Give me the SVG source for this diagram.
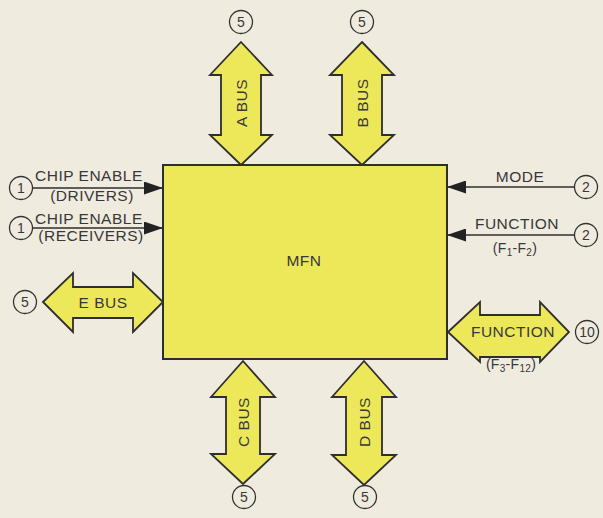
<svg xmlns="http://www.w3.org/2000/svg" width="603" height="518" viewBox="0 0 603 518">
<style>
  .bg { fill: #efebdf; }
  .blk { fill: #ece85a; stroke: #2e2e2e; stroke-width: 2; }
  .bus { fill: #ece85a; stroke: #2e2e2e; stroke-width: 1.8; stroke-linejoin: miter; }
  .pin { fill: none; stroke: #333; stroke-width: 1.3; }
  .wire { fill: none; stroke: #2e2e2e; stroke-width: 1.6; }
  text { font-family: "Liberation Sans", Arial, sans-serif; font-size: 15.5px; fill: #383838; letter-spacing: 0.5px; }
  .num { font-size: 14px; letter-spacing: 0; text-anchor: middle; }
  .c { text-anchor: middle; }
  .sm { font-size: 14px; letter-spacing: 0.3px; }
</style>
<defs>
  <marker id="ah" viewBox="0 0 19 13" refX="19" refY="6.5" markerWidth="19" markerHeight="13" markerUnits="userSpaceOnUse" orient="auto">
    <path d="M0,0 L19,6.5 L0,13 Z" fill="#222"/>
  </marker>
</defs>
<rect class="bg" x="0" y="0" width="603" height="518"/>

<g id="connectors">
  <!-- A BUS -->
  <path class="bus" d="M241,42 L272,75 L261,75 L261,135 L272,135 L241,165 L210,135 L221,135 L221,75 L210,75 Z"/>
  <!-- B BUS -->
  <path class="bus" d="M362,42 L394,75 L382,75 L382,135 L394,135 L362,165 L330,135 L342,135 L342,75 L330,75 Z"/>
  <!-- C BUS -->
  <path class="bus" d="M243,361 L275,397 L260,397 L260,454 L275,454 L243,484 L211,454 L226,454 L226,397 L211,397 Z"/>
  <!-- D BUS -->
  <path class="bus" d="M364,361 L396,397 L382,397 L382,455 L396,455 L364,485 L332,455 L346,455 L346,397 L332,397 Z"/>
  <!-- E BUS -->
  <path class="bus" d="M43,302 L73,273 L73,287 L133,287 L133,273 L163,302 L133,332 L133,318 L73,318 L73,332 Z"/>
  <!-- FUNCTION F3-F12 -->
  <path class="bus" d="M448,332 L480,302 L480,315 L540,315 L540,302 L569,332 L540,362 L540,357 L480,357 L480,362 Z"/>
  <!-- control lines -->
  <line class="wire" x1="33" y1="188" x2="163" y2="188" marker-end="url(#ah)"/>
  <line class="wire" x1="33" y1="228" x2="163" y2="228" marker-end="url(#ah)"/>
  <line class="wire" x1="574" y1="187" x2="447" y2="187" marker-end="url(#ah)"/>
  <line class="wire" x1="574" y1="235" x2="447" y2="235" marker-end="url(#ah)"/>
</g>

<g id="mfn">
  <rect class="blk" x="163" y="165" width="284" height="194"/>
  <text class="c" x="304" y="266">MFN</text>
</g>

<g id="a-bus-label"><text class="c" transform="translate(247,103) rotate(-90)">A BUS</text></g>
<g id="b-bus-label"><text class="c" transform="translate(368,103) rotate(-90)">B BUS</text></g>
<g id="c-bus-label"><text class="c" transform="translate(249,422) rotate(-90)">C BUS</text></g>
<g id="d-bus-label"><text class="c" transform="translate(370,422) rotate(-90)">D BUS</text></g>
<g id="e-bus-label"><text class="c" x="103" y="308">E BUS</text></g>

<g id="func-bus-label">
  <text class="c" x="513" y="337">FUNCTION</text>
  <text class="c sm" x="511" y="369">(F<tspan font-size="10" dy="3">3</tspan><tspan dy="-3">-F</tspan><tspan font-size="10" dy="3">12</tspan><tspan dy="-3">)</tspan></text>
</g>

<g id="chip-enable-drivers">
  <text x="35" y="181">CHIP ENABLE</text>
  <text class="c" x="92" y="201">(DRIVERS)</text>
</g>
<g id="chip-enable-receivers">
  <text x="35" y="224">CHIP ENABLE</text>
  <text class="c" x="91" y="241">(RECEIVERS)</text>
</g>
<g id="mode-label"><text class="c" x="520" y="182">MODE</text></g>
<g id="function-label">
  <text class="c" x="517" y="229">FUNCTION</text>
  <text class="c sm" x="515" y="253">(F<tspan font-size="10" dy="3">1</tspan><tspan dy="-3">-F</tspan><tspan font-size="10" dy="3">2</tspan><tspan dy="-3">)</tspan></text>
</g>

<g id="pin-a"><circle class="pin" cx="241" cy="22" r="11.5"/><text class="num" x="241" y="27">5</text></g>
<g id="pin-b"><circle class="pin" cx="362" cy="22" r="11.5"/><text class="num" x="362" y="27">5</text></g>
<g id="pin-c"><circle class="pin" cx="244" cy="497" r="11.5"/><text class="num" x="244" y="502">5</text></g>
<g id="pin-d"><circle class="pin" cx="365" cy="497" r="11.5"/><text class="num" x="365" y="502">5</text></g>
<g id="pin-e"><circle class="pin" cx="25" cy="302" r="11.5"/><text class="num" x="25" y="307">5</text></g>
<g id="pin-ce-drivers"><circle class="pin" cx="21" cy="188" r="11.5"/><text class="num" x="21" y="193">1</text></g>
<g id="pin-ce-receivers"><circle class="pin" cx="21" cy="228" r="11.5"/><text class="num" x="21" y="233">1</text></g>
<g id="pin-mode"><circle class="pin" cx="586" cy="187" r="11.5"/><text class="num" x="586" y="192">2</text></g>
<g id="pin-function"><circle class="pin" cx="586" cy="235" r="11.5"/><text class="num" x="586" y="240">2</text></g>
<g id="pin-function-bus"><circle class="pin" cx="587" cy="332" r="11.5"/><text class="num" x="587" y="337">10</text></g>
</svg>
